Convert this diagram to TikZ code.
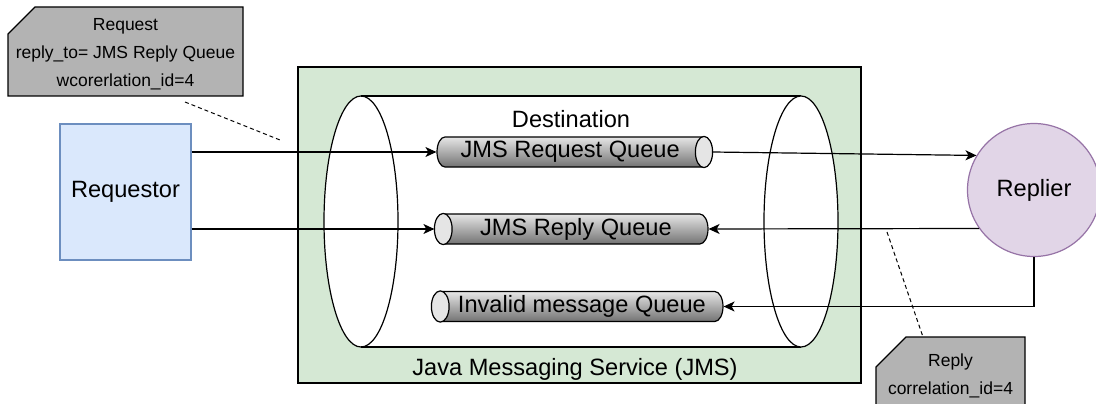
\documentclass[tikz,border=0pt]{standalone}
\usepackage{fontspec}
\setmainfont{Liberation Sans}
\usetikzlibrary{arrows.meta,positioning,shapes.geometric,calc}
\definecolor{jmsfill}{HTML}{D5E8D4}
\definecolor{reqfill}{HTML}{DAE8FC}
\definecolor{reqdraw}{HTML}{6C8EBF}
\definecolor{repfill}{HTML}{E1D5E7}
\definecolor{repdraw}{HTML}{9673A6}
\definecolor{notefill}{HTML}{B3B3B3}

\begin{document}
\begin{tikzpicture}[x=1pt, y=-1pt, line width=1.2pt,
  big/.style={font=\fontsize{23.6}{28}\selectfont},
  small/.style={font=\fontsize{17.5}{28}\selectfont, align=center},
  actor/.style={rectangle, draw=reqdraw, fill=reqfill, minimum width=131pt, minimum height=136pt, big},
  server/.style={circle, draw=repdraw, fill=repfill, minimum size=133pt, inner sep=0pt, big},
  queue/.style={cylinder, draw, aspect=0.75, minimum width=30pt, inner sep=0pt,
                top color=black!10, bottom color=black!55, big},
  qend/.style={draw, fill=black!10},
  card/.style={draw, fill=notefill},
  arr/.style={-{Stealth[length=11pt, width=10pt, inset=3pt]}},
  dashed arr/.style={line width=1pt, dash pattern=on 4pt off 3pt}
]
\useasboundingbox (0,0) rectangle (1096,404);

\filldraw[fill=jmsfill] (298,67) rectangle (861,383);
\fill[white] (361,96) rectangle (801,347);
\filldraw[fill=white] (361,221.5) ellipse (37pt and 125.5pt);
\draw (361,96) -- (801,96) (361,347) -- (801,347);
\filldraw[fill=white] (801,221.5) ellipse (37pt and 125.5pt);
\node[big] (dest) at (571,119) {Destination};
\node[big] (jms) at (575,369) {Java Messaging Service (JMS)};

\node[actor] (rqst) at (125.5,192) {Requestor};
\node[server] (rplr) at (1034,190) {Replier};

\node[queue, shape border rotate=0, minimum height=275pt, anchor=shape center] (rq) at (574.5,152) {JMS Request Queue};
\node[queue, shape border rotate=180, minimum height=273pt, anchor=shape center] (rpq) at (571.5,229) {JMS Reply Queue};
\node[queue, shape border rotate=180, minimum height=291pt, anchor=shape center] (iq) at (577.5,306.5) {Invalid message Queue};
\foreach \q in {rq,rpq,iq}
  \path let \p1=($(\q.before top)!.5!(\q.after top)$), \p2=(\q.top), \p3=(\q.before top),
            \n1={abs(\x2-\x1)}, \n2={abs(\y3-\y1)} in
    [qend] (\p1) ellipse (\n1 and \n2);

\filldraw[card] (8,34) -- (35,7) -- (243,7) -- (243,96) -- (8,96) -- cycle;
\node[small] (rqn) at (125.5,54.5) {Request\\reply\_to= JMS Reply Queue\\wcorerlation\_id=4};
\filldraw[card] (876,367) -- (906,337) -- (1025,337) -- (1025,412) -- (876,412) -- cycle;
\node[small] (rpn) at (950.5,376) {Reply\\correlation\_id=4};

\draw[arr] (rq.bottom -| rqst.east) -- (rq.bottom);
\draw[arr] (rpq.top -| rqst.east) -- (rpq.top);
\draw[arr] (rq.top) -- (rplr.149);
\draw[arr] (rplr.215) -- (rpq.bottom);
\draw[arr] (rplr.south) |- (iq.bottom);

\coordinate (c1) at (185,102);
\coordinate (c2) at (280,140);
\coordinate (c3) at (887,232);
\coordinate (c4) at (923,337);
\draw[dashed arr] (c1) -- (c2);
\draw[dashed arr] (c3) -- (c4);
\end{tikzpicture}
\end{document}
